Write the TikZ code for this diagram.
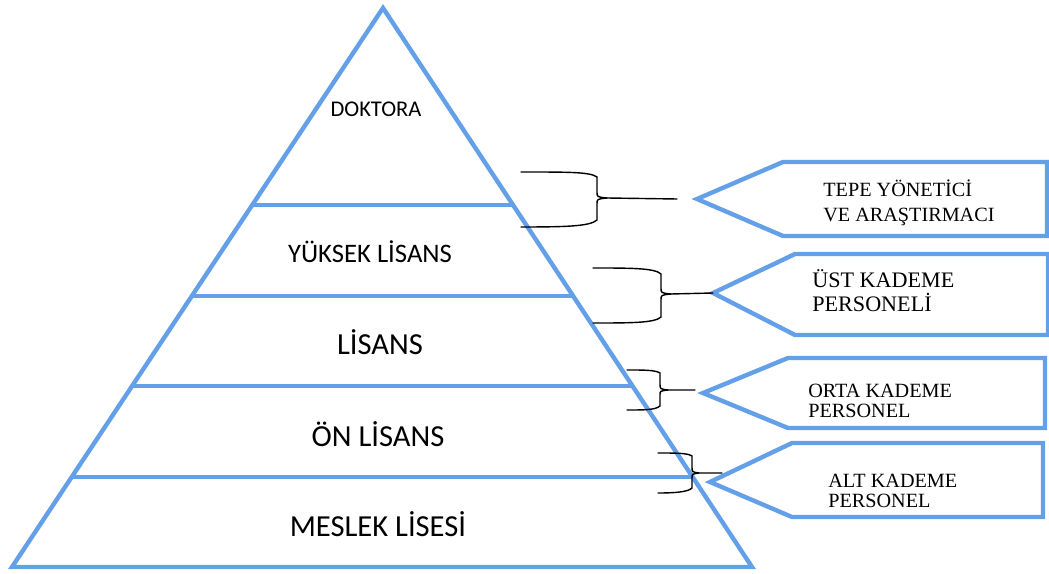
\documentclass[tikz,border=0pt]{standalone}
\usepackage{fontspec}
\setmainfont{Liberation Serif}
\newfontfamily\calibri{Carlito}
\usetikzlibrary{calc}
\definecolor{piramit}{RGB}{100,160,232}

\begin{document}
\begin{tikzpicture}[
    x=0.02cm, y=-0.02cm,
    kenar/.style={draw=piramit, line width=2.5pt},
    parantez/.style={draw=black, line width=0.8pt, line cap=round},
    seviye/.style={anchor=base, inner sep=0pt, font=\calibri\fontsize{17.4}{20}\selectfont},
    kutuyazi/.style={anchor=west, align=left, inner sep=0pt}
]
\useasboundingbox (0,0) rectangle (1049,574);

% 1) Piramit
\coordinate (tepe) at (383,8);
\coordinate (sol) at (12,567);
\coordinate (sag) at (752,567);
\draw[kenar] (tepe) -- (sol) -- (sag) -- cycle;

% 2) Katman cizgileri
\draw[kenar] ($(tepe)!0.3524!(sol)$) -- ($(tepe)!0.3524!(sag)$);
\draw[kenar] ($(tepe)!0.5152!(sol)$) -- ($(tepe)!0.5152!(sag)$);
\draw[kenar] ($(tepe)!0.6762!(sol)$) -- ($(tepe)!0.6762!(sag)$);
\draw[kenar] ($(tepe)!0.8390!(sol)$) -- ($(tepe)!0.8390!(sag)$);

% 3) Katman yazilari
\node[seviye, font=\calibri\fontsize{12.8}{14}\selectfont] (doktora) at (376,117) {DOKTORA};
\node[seviye, font=\calibri\fontsize{15.2}{17}\selectfont] (yuksek) at (370,263) {YÜKSEK LİSANS};
\node[seviye] (lisans) at (380,355) {LİSANS};
\node[seviye] (onlisans) at (378,447) {ÖN LİSANS};
\node[seviye] (meslek) at (378,537) {MESLEK LİSESİ};

% 4) Oklu kutular
\draw[kenar] (697,199) coordinate (u1) -- (783,162) -- (1047,162) -- (1047,236) -- (783,236) -- cycle;
\node[kutuyazi, font=\fontsize{11.5}{14.2}\selectfont] (tepeyon) at (823,203) {TEPE YÖNETİCİ\\VE ARAŞTIRMACI};

\draw[kenar] (713,293) coordinate (u2) -- (795,254) -- (1048,254) -- (1048,335) -- (795,335) -- cycle;
\node[kutuyazi, font=\fontsize{12.6}{13.7}\selectfont] (ust) at (812,290.5) {ÜST KADEME\\PERSONELİ};

\draw[kenar] (703,393) coordinate (u3) -- (788,358) -- (1045,358) -- (1045,428) -- (788,428) -- cycle;
\node[kutuyazi, font=\fontsize{11.5}{11.4}\selectfont] (orta) at (808,400.5) {ORTA KADEME\\PERSONEL};

\draw[kenar] (710,482) coordinate (u4) -- (792,443) -- (1043,443) -- (1043,517) -- (792,517) -- cycle;
\node[kutuyazi, font=\fontsize{11.5}{11.4}\selectfont] (alt) at (828,490.5) {ALT KADEME\\PERSONEL};

% 5) Parantezler
\coordinate (p1) at (677,199);
\draw[parantez] (521,172) .. controls (570,172) and (590,172) .. (597,177) -- (597,192)
   .. controls (597,197) .. (607,198) -- (p1);
\draw[parantez] (607,198) .. controls (597,199) .. (597,204) -- (597,220)
   .. controls (590,226) and (570,227) .. (521,227);

\coordinate (p2) at (u2);
\draw[parantez] (593,268) .. controls (630,268) and (655,268) .. (661,274) -- (661,288)
   .. controls (661,293) .. (671,294) -- (p2);
\draw[parantez] (671,294) .. controls (661,295) .. (661,300) -- (661,317)
   .. controls (655,323) and (630,323) .. (593,323);

\coordinate (p3) at (695,390);
\draw[parantez] (627,370) .. controls (645,370) and (655,370) .. (660,373) -- (660,384)
   .. controls (660,389) .. (668,390) -- (p3);
\draw[parantez] (668,390) .. controls (660,391) .. (660,395) -- (660,406)
   .. controls (655,410) and (645,410) .. (627,410);

\coordinate (p4) at (722,473);
\draw[parantez] (658,453) .. controls (675,453) and (688,453) .. (692,456) -- (692,467)
   .. controls (692,472) .. (699,473) -- (p4);
\draw[parantez] (699,473) .. controls (692,474) .. (692,478) -- (692,488)
   .. controls (688,492) and (675,493) .. (658,493);
\end{tikzpicture}
\end{document}
